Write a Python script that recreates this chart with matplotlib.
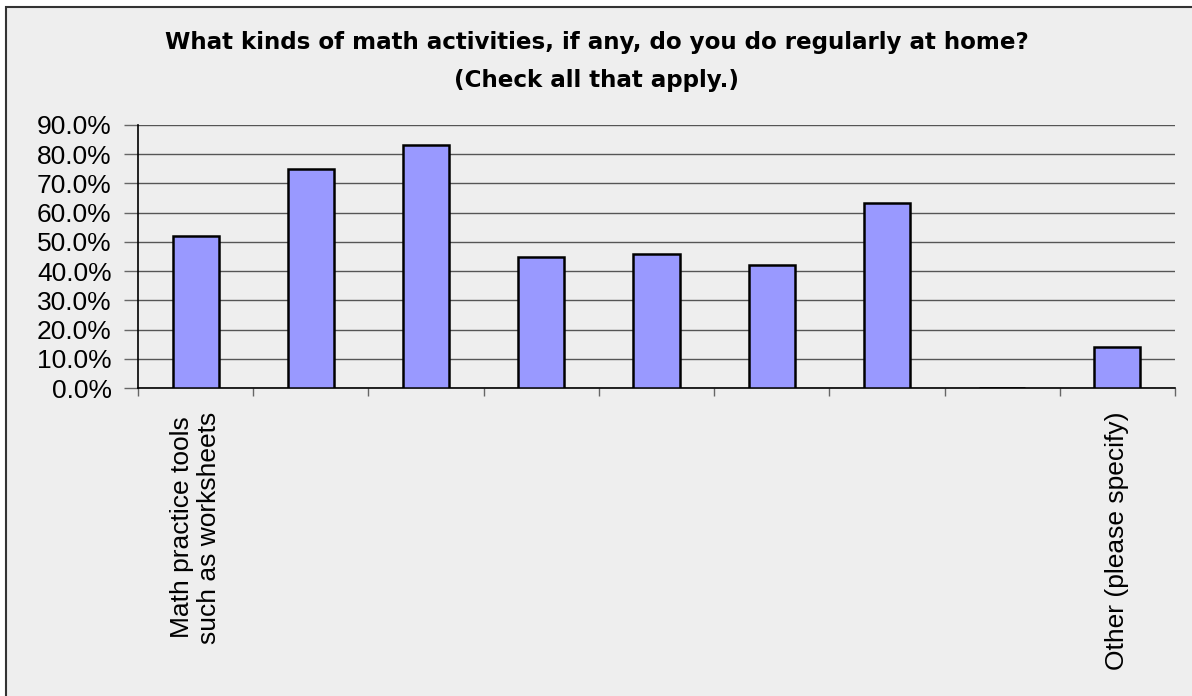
import matplotlib
matplotlib.use("Agg")
import matplotlib.pyplot as plt
from matplotlib.patches import Rectangle
import numpy as np

categories = ["Math practice tools\nsuch as worksheets", "", "", "", "", "", "", "", "Other (please specify)"]
values = [52.0, 74.9, 83.2, 45.0, 45.8, 42.1, 63.2, 0.0, 14.1]
yticks = [0, 10, 20, 30, 40, 50, 60, 70, 80, 90]
ytick_labels = [f"{v:.1f}%" for v in yticks]
title = "What kinds of math activities, if any, do you do regularly at home?\n(Check all that apply.)"

W, H = 1192, 696
fig = plt.figure(figsize=(W / 100, H / 100), dpi=100)
fig.patch.set_facecolor("white")

# outer chart area with border (left/top visible)
bg = Rectangle((6 / W, -0.05), 1.1, (H - 7) / H + 0.05, transform=fig.transFigure,
               facecolor="#EEEEEE", edgecolor="#333333", linewidth=1.5, zorder=-10)
fig.patches.append(bg)

x0, x1 = 138, 1175
y0, y1 = 388, 125
ax = fig.add_axes([x0 / W, 1 - y0 / H, (x1 - x0) / W, (y0 - y1) / H])
ax.set_zorder(5)
ax.set_facecolor("none")

n = len(categories)
x = np.arange(n)
ax.bar(x, values, width=0.4, color="#9999FF", edgecolor="black", linewidth=1.8, zorder=3)

ax.set_xlim(-0.5, n - 0.5)
ax.set_ylim(0, 90)
ax.set_yticks(yticks)
ax.set_yticklabels(ytick_labels, fontfamily="Liberation Sans", fontsize=19)
ax.yaxis.grid(True, color="#555555", linewidth=1.0, zorder=1)
ax.set_axisbelow(True)

ax.set_xticks(np.arange(-0.5, n, 1.0))
ax.set_xticklabels([])
ax.tick_params(axis="x", direction="out", length=6, width=1, color="#666666")
ax.tick_params(axis="y", direction="out", length=10, width=1, color="#666666", pad=9)

for i, lab in enumerate(categories):
    if lab:
        ax.text(i, -8.0, lab, rotation=90, ha="center", va="top", fontsize=19,
                fontfamily="Liberation Sans", linespacing=1.15, transform=ax.transData)

for s in ["top", "right"]:
    ax.spines[s].set_visible(False)
ax.spines["left"].set_color("black")
ax.spines["bottom"].set_color("black")
ax.spines["left"].set_linewidth(1.2)
ax.spines["bottom"].set_linewidth(1.2)

fig.text(597 / W, 1 - 61.5 / H, title, ha="center", va="center", fontsize=16.6,
         fontweight="bold", fontfamily="DejaVu Sans", linespacing=1.8)

fig.savefig("out.png", dpi=100, facecolor=fig.get_facecolor())
